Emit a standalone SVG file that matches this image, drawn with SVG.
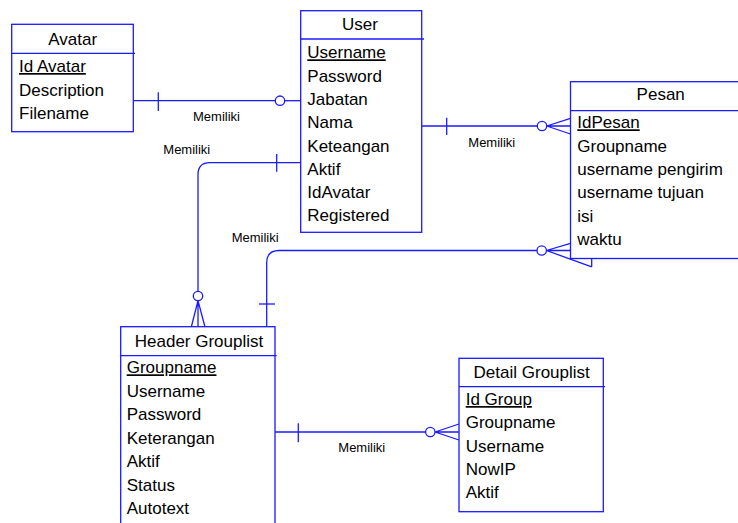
<svg xmlns="http://www.w3.org/2000/svg" width="738" height="523" viewBox="0 0 738 523">
  <style>
    .box { fill: #ffffff; stroke: #1a1aff; stroke-width: 1.3; }
    .sep { stroke: #1a1aff; stroke-width: 1.3; fill: none; }
    .ln { stroke: #1a1aff; stroke-width: 1.3; fill: none; }
    .ring { stroke: #1a1aff; stroke-width: 1.3; fill: #ffffff; }
    .title { font-family: "Liberation Sans", Arial, sans-serif; font-size: 17px; fill: #000000; text-anchor: middle; }
    .attr { font-family: "Liberation Sans", Arial, sans-serif; font-size: 17px; fill: #000000; }
    .pk { text-decoration: underline; }
    .lbl { font-family: "Liberation Sans", Arial, sans-serif; font-size: 13px; fill: #000000; }
  </style>

  <!-- relationship lines -->
  <g id="connectors">
    <!-- Avatar - User -->
    <line class="ln" x1="133.3" y1="100.7" x2="275.3" y2="100.7"/>
    <line class="ln" x1="158.3" y1="92.3" x2="158.3" y2="111"/>
    <circle class="ring" cx="280" cy="100.7" r="4.7"/>
    <line class="ln" x1="284.7" y1="100.7" x2="300.7" y2="100.7"/>
    <text class="lbl" x="193" y="120.5">Memiliki</text>

    <!-- User - Header Grouplist -->
    <path class="ln" d="M300.7,162.7 H210 Q198,162.7 198,174.7 V291.3"/>
    <line class="ln" x1="276.7" y1="154" x2="276.7" y2="171.7"/>
    <circle class="ring" cx="198" cy="296" r="4.7"/>
    <path class="ln" d="M198,300.7 L191.3,327 M198,300.7 L198,327 M198,300.7 L205,327"/>
    <text class="lbl" x="163.3" y="154">Memiliki</text>

    <!-- Pesan - Header Grouplist -->
    <path class="ln" d="M537,250.5 H279 Q266.7,250.5 266.7,262.8 V327"/>
    <line class="ln" x1="259" y1="304" x2="275" y2="304"/>
    <circle class="ring" cx="541.7" cy="250.5" r="4.7"/>
    <path class="ln" d="M546.4,250.5 L570.5,243.3 M546.4,250.5 L570.5,250.5 M546.4,250.5 L591.7,266.8 M591.7,258.5 L591.7,266.8"/>
    <text class="lbl" x="231.7" y="241.7">Memiliki</text>

    <!-- User - Pesan -->
    <line class="ln" x1="421.7" y1="126" x2="537.3" y2="126"/>
    <line class="ln" x1="446.7" y1="117.7" x2="446.7" y2="135"/>
    <circle class="ring" cx="542" cy="126" r="4.7"/>
    <path class="ln" d="M546.7,126 L570.5,118.3 M546.7,126 L570.5,126 M546.7,126 L570.5,134"/>
    <text class="lbl" x="468.3" y="146.7">Memiliki</text>

    <!-- Header Grouplist - Detail Grouplist -->
    <line class="ln" x1="275" y1="432" x2="425.6" y2="432"/>
    <line class="ln" x1="298.3" y1="423.3" x2="298.3" y2="442.3"/>
    <circle class="ring" cx="430.3" cy="432" r="4.7"/>
    <path class="ln" d="M435,432 L459,424 M435,432 L459,432 M435,432 L459,440"/>
    <text class="lbl" x="338.3" y="451.7">Memiliki</text>
  </g>

  <!-- Avatar -->
  <g id="avatar">
    <rect class="box" x="11.7" y="24.3" width="121.6" height="107.4"/>
    <line class="sep" x1="11.7" y1="53.3" x2="135" y2="53.3"/>
    <text class="title" x="72.7" y="45">Avatar</text>
    <text class="attr pk" x="19" y="72">Id Avatar</text>
    <text class="attr" x="19" y="95.5">Description</text>
    <text class="attr" x="19" y="119">Filename</text>
  </g>

  <!-- User -->
  <g id="user">
    <rect class="box" x="300.7" y="10.7" width="121" height="221.6"/>
    <line class="sep" x1="300.7" y1="39" x2="424" y2="39"/>
    <text class="title" x="360" y="30">User</text>
    <text class="attr pk" x="307.3" y="58.3">Username</text>
    <text class="attr" x="307.3" y="81.6">Password</text>
    <text class="attr" x="307.3" y="104.9">Jabatan</text>
    <text class="attr" x="307.3" y="128.2">Nama</text>
    <text class="attr" x="307.3" y="151.5">Keteangan</text>
    <text class="attr" x="307.3" y="174.8">Aktif</text>
    <text class="attr" x="307.3" y="198.1">IdAvatar</text>
    <text class="attr" x="307.3" y="221.4">Registered</text>
  </g>

  <!-- Pesan -->
  <g id="pesan">
    <rect class="box" x="570.5" y="81.7" width="180" height="176.8"/>
    <line class="sep" x1="570.5" y1="110.7" x2="750" y2="110.7"/>
    <text class="title" x="660.7" y="100">Pesan</text>
    <text class="attr pk" x="577.3" y="128.3">IdPesan</text>
    <text class="attr" x="577.3" y="151.6">Groupname</text>
    <text class="attr" x="577.3" y="174.9">username pengirim</text>
    <text class="attr" x="577.3" y="198.2">username tujuan</text>
    <text class="attr" x="577.3" y="221.5">isi</text>
    <text class="attr" x="577.3" y="244.8">waktu</text>
  </g>

  <!-- Header Grouplist -->
  <g id="header-grouplist">
    <rect class="box" x="120.7" y="326.7" width="154.3" height="210"/>
    <line class="sep" x1="120.7" y1="355.7" x2="276.7" y2="355.7"/>
    <text class="title" x="199" y="346.7">Header Grouplist</text>
    <text class="attr pk" x="126.7" y="373.3">Groupname</text>
    <text class="attr" x="126.7" y="396.8">Username</text>
    <text class="attr" x="126.7" y="420.3">Password</text>
    <text class="attr" x="126.7" y="443.7">Keterangan</text>
    <text class="attr" x="126.7" y="467.1">Aktif</text>
    <text class="attr" x="126.7" y="490.6">Status</text>
    <text class="attr" x="126.7" y="514">Autotext</text>
  </g>

  <!-- Detail Grouplist -->
  <g id="detail-grouplist">
    <rect class="box" x="459" y="358.3" width="144.3" height="153.4"/>
    <line class="sep" x1="459" y1="386.7" x2="605" y2="386.7"/>
    <text class="title" x="531.7" y="377.7">Detail Grouplist</text>
    <text class="attr pk" x="465.7" y="405">Id Group</text>
    <text class="attr" x="465.7" y="428.3">Groupname</text>
    <text class="attr" x="465.7" y="451.7">Username</text>
    <text class="attr" x="465.7" y="475">NowIP</text>
    <text class="attr" x="465.7" y="498.3">Aktif</text>
  </g>
</svg>
